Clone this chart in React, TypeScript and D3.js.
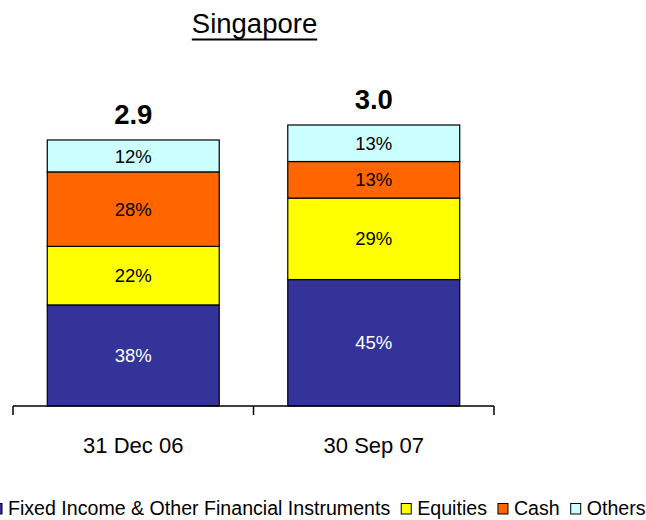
import React, { useEffect, useRef } from "react";
import * as d3 from "d3";

const title = "Singapore";
const categories = ["31 Dec 06", "30 Sep 07"];
const totals = [2.84, 3.0];
const totalLabels = ["2.9", "3.0"];
const seriesNames = ["Fixed Income & Other Financial Instruments", "Equities", "Cash", "Others"];
const seriesColors = ["#333399", "#FFFF00", "#FF6600", "#CCFFFF"];
const fixedIncome = [38, 45];
const equities = [22, 29];
const cash = [28, 13];
const others = [12, 13];

const W = 646;
const H = 520;
const FONT = "'Liberation Sans', Arial, sans-serif";

export default function App() {
  const ref = useRef<SVGSVGElement>(null);

  useEffect(() => {
    const svg = d3.select(ref.current);
    svg.selectAll("*").remove();

    const x = d3.scaleBand<string>().domain(categories).range([13, 494]).paddingInner(0).paddingOuter(0);
    const y = d3.scaleLinear().domain([0, 3.0]).range([406, 125]);
    const barW = x.bandwidth() * 0.715;

    // title
    const t = svg.append("text")
      .attr("x", 254.5).attr("y", 33)
      .attr("text-anchor", "middle")
      .attr("font-family", FONT).attr("font-size", 27.5)
      .attr("fill", "#000")
      .text(title);
    const tw = (t.node() as SVGTextElement).getComputedTextLength();
    svg.append("line")
      .attr("x1", 254.5 - tw / 2).attr("x2", 254.5 + tw / 2)
      .attr("y1", 39.5).attr("y2", 39.5)
      .attr("stroke", "#000").attr("stroke-width", 2);

    const series = [fixedIncome, equities, cash, others];

    categories.forEach((cat, i) => {
      const cx = (x(cat) as number) + x.bandwidth() / 2;
      const x0 = cx - barW / 2;
      let cum = 0;
      series.forEach((s, k) => {
        const v0 = (totals[i] * cum) / 100;
        const v1 = (totals[i] * (cum + s[i])) / 100;
        cum += s[i];
        const yTop = y(v1);
        const yBot = y(v0);
        svg.append("rect")
          .attr("x", x0).attr("y", yTop)
          .attr("width", barW).attr("height", yBot - yTop)
          .attr("fill", seriesColors[k])
          .attr("stroke", "#000").attr("stroke-width", 1.2);
        svg.append("text")
          .attr("x", cx).attr("y", (yTop + yBot) / 2)
          .attr("dy", "0.36em")
          .attr("text-anchor", "middle")
          .attr("font-family", FONT).attr("font-size", 18.5)
          .attr("fill", k === 0 ? "#fff" : "#000")
          .text(`${s[i]}%`);
      });
      svg.append("text")
        .attr("x", cx).attr("y", y(totals[i]) - 16)
        .attr("text-anchor", "middle")
        .attr("font-family", FONT).attr("font-size", 27.5).attr("font-weight", "bold")
        .attr("fill", "#000")
        .text(totalLabels[i]);
      svg.append("text")
        .attr("x", cx).attr("y", 453)
        .attr("text-anchor", "middle")
        .attr("font-family", FONT).attr("font-size", 22)
        .attr("fill", "#000")
        .text(cat);
    });

    // axis
    svg.append("line")
      .attr("x1", 13).attr("x2", 494).attr("y1", 406).attr("y2", 406)
      .attr("stroke", "#000").attr("stroke-width", 1.5);
    const tickXs = [...categories.map((c) => x(c) as number), 494];
    tickXs.forEach((tx) => {
      svg.append("line")
        .attr("x1", tx).attr("x2", tx).attr("y1", 406).attr("y2", 415)
        .attr("stroke", "#000").attr("stroke-width", 1.5);
    });

    // legend
    let lx = -8;
    seriesNames.forEach((name, k) => {
      svg.append("rect")
        .attr("x", lx).attr("y", 503.5)
        .attr("width", 10).attr("height", 10.5)
        .attr("fill", seriesColors[k])
        .attr("stroke", "#000").attr("stroke-width", 1);
      const tt = svg.append("text")
        .attr("x", lx + 16).attr("y", 515)
        .attr("font-family", FONT).attr("font-size", 19.6)
        .attr("fill", "#000")
        .text(name);
      const w = (tt.node() as SVGTextElement).getComputedTextLength();
      lx = lx + 16 + w + 11;
    });
  }, []);

  return (
    <svg
      ref={ref}
      width={W}
      height={H}
      style={{ position: "absolute", left: 0, top: 0, background: "#fff" }}
    />
  );
}
